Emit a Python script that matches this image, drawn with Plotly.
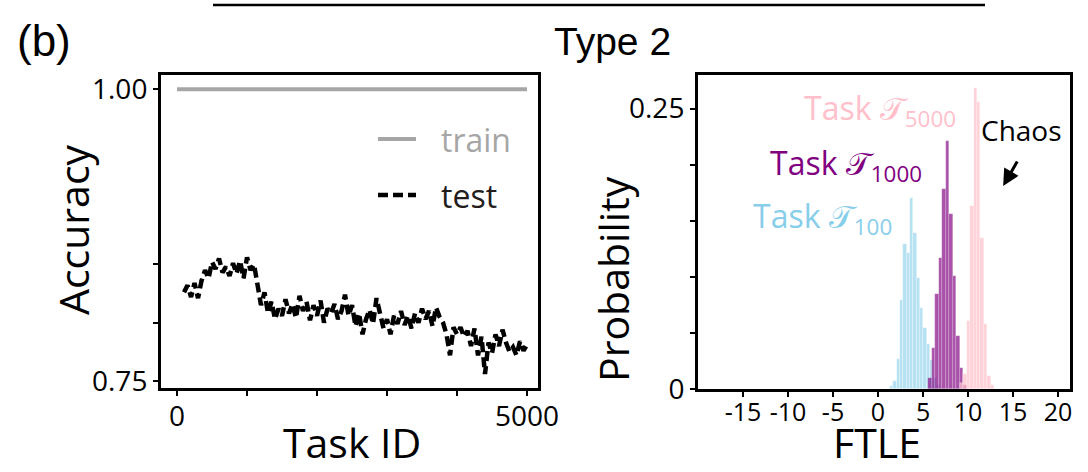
import plotly.graph_objects as go

# ---------------- data ----------------
train_task = [0, 5000]
train_acc = [1.0, 1.0]

test_task = [100, 150, 200, 250, 300, 350, 400, 450, 500, 550, 600, 650, 700, 750, 800,
             850, 900, 950, 1000, 1050, 1100, 1150, 1200, 1250, 1300, 1350, 1400, 1450,
             1500, 1550, 1600, 1650, 1700, 1750, 1800, 1850, 1900, 1950, 2000, 2050, 2100,
             2150, 2200, 2250, 2300, 2350, 2400, 2450, 2500, 2550, 2600, 2650, 2700, 2750,
             2800, 2850, 2900, 2950, 3000, 3050, 3100, 3150, 3200, 3250, 3300, 3350, 3400,
             3450, 3500, 3550, 3600, 3650, 3700, 3750, 3800, 3850, 3900, 3950, 4000, 4050,
             4100, 4150, 4200, 4250, 4300, 4350, 4400, 4450, 4500, 4550, 4600, 4650, 4700,
             4750, 4800, 4850, 4900, 4950, 5000]
test_acc = [0.826, 0.832, 0.822, 0.834, 0.821, 0.836, 0.845, 0.838, 0.852, 0.846, 0.855,
            0.843, 0.848, 0.840, 0.851, 0.842, 0.853, 0.838, 0.856, 0.845, 0.850, 0.833,
            0.815, 0.826, 0.808, 0.818, 0.803, 0.812, 0.806, 0.820, 0.808, 0.816, 0.804,
            0.823, 0.810, 0.818, 0.802, 0.815, 0.806, 0.819, 0.800, 0.812, 0.808, 0.816,
            0.803, 0.810, 0.824, 0.806, 0.815, 0.797, 0.808, 0.790, 0.803, 0.811, 0.799,
            0.821, 0.806, 0.795, 0.803, 0.790, 0.806, 0.799, 0.810, 0.798, 0.806, 0.795,
            0.808, 0.800, 0.812, 0.803, 0.810, 0.797, 0.813, 0.805, 0.800, 0.790, 0.772,
            0.796, 0.790, 0.796, 0.788, 0.793, 0.780, 0.795, 0.772, 0.788, 0.756, 0.783,
            0.774, 0.790, 0.780, 0.794, 0.783, 0.775, 0.779, 0.772, 0.784, 0.776, 0.781]

ftle_100_x = [1.52, 1.89, 2.26, 2.63, 3.00, 3.37, 3.74, 4.11, 4.48, 4.85, 5.22, 5.59, 5.96, 6.33, 6.70]
ftle_100_p = [0.003, 0.007, 0.027, 0.079, 0.129, 0.121, 0.170, 0.139, 0.099, 0.072, 0.054, 0.040, 0.026, 0.010, 0.004]

ftle_1000_x = [5.78, 6.17, 6.56, 6.95, 7.34, 7.73, 8.12, 8.51, 8.90, 9.29, 9.68]
ftle_1000_p = [0.010, 0.037, 0.085, 0.117, 0.178, 0.221, 0.156, 0.101, 0.047, 0.019, 0.004]

ftle_5000_x = [9.29, 9.67, 10.05, 10.43, 10.81, 11.19, 11.57, 11.95, 12.33, 12.71]
ftle_5000_p = [0.005, 0.013, 0.061, 0.163, 0.268, 0.256, 0.135, 0.058, 0.012, 0.004]

acc_ticks = [0.75, 0.80, 0.85, 1.00]
acc_ticklabels = ["0.75", "", "", "1.00"]
task_ticks = [0, 1000, 2000, 3000, 4000, 5000]
task_ticklabels = ["0", "", "", "", "", "5000"]
ftle_ticks = [-15, -10, -5, 0, 5, 10, 15, 20]
ftle_ticklabels = ["-15", "-10", "-5", "0", "5", "10", "15", "20"]
prob_ticks = [0, 0.05, 0.10, 0.15, 0.20, 0.25]
prob_ticklabels = ["0", "", "", "", "", "0.25"]

# ---------------- figure ----------------
W, H = 1088, 472
FONT = "Open Sans, Lato, DejaVu Sans, sans-serif"

fig = go.Figure()

fig.add_trace(go.Scatter(x=train_task, y=train_acc, mode="lines",
                         line=dict(color="#a6a6a6", width=4), name="train",
                         xaxis="x", yaxis="y", showlegend=False))
fig.add_trace(go.Scatter(x=test_task, y=test_acc, mode="lines",
                         line=dict(color="black", width=4.5, dash="10px,5px"), name="test",
                         xaxis="x", yaxis="y", showlegend=False))

fig.add_trace(go.Bar(x=ftle_100_x, y=ftle_100_p, width=0.37, xaxis="x2", yaxis="y2",
                     marker=dict(color="rgba(135,206,235,0.62)", line=dict(color="rgba(255,255,255,0.6)", width=0.6)),
                     showlegend=False))
fig.add_trace(go.Bar(x=ftle_1000_x, y=ftle_1000_p, width=0.39, xaxis="x2", yaxis="y2",
                     marker=dict(color="rgba(128,0,128,0.68)", line=dict(color="rgba(255,255,255,0.4)", width=0.5)),
                     showlegend=False))
fig.add_trace(go.Bar(x=ftle_5000_x, y=ftle_5000_p, width=0.38, xaxis="x2", yaxis="y2",
                     marker=dict(color="rgba(255,192,203,0.72)", line=dict(color="rgba(255,255,255,0.5)", width=0.5)),
                     showlegend=False))

axis_common = dict(showline=True, linewidth=3, linecolor="black", mirror=True,
                   ticks="outside", ticklen=5, tickwidth=2, tickcolor="black",
                   showgrid=False, zeroline=False, automargin=False)

fig.update_layout(
    width=W, height=H,
    margin=dict(l=0, r=0, t=0, b=0),
    paper_bgcolor="white", plot_bgcolor="white",
    barmode="overlay", bargap=0,
    font=dict(family=FONT, color="black"),
    xaxis=dict(domain=[161 / W, 538 / W], range=[-229, 5157], anchor="y",
               tickvals=task_ticks, ticktext=task_ticklabels,
               tickfont=dict(size=28), ticklabelstandoff=-4, **axis_common),
    yaxis=dict(domain=[1 - 388 / H, 1 - 75 / H], range=[0.744, 1.0123], anchor="x",
               tickvals=acc_ticks, ticktext=acc_ticklabels,
               tickfont=dict(size=28), **axis_common),
    xaxis2=dict(domain=[698 / W, 1070 / W], range=[-20, 21.33], anchor="y2",
                tickvals=ftle_ticks, ticktext=ftle_ticklabels,
                tickfont=dict(size=25), ticklabelstandoff=-6, **axis_common),
    yaxis2=dict(domain=[1 - 389 / H, 1 - 75 / H], range=[0, 0.28], anchor="x2",
                tickvals=prob_ticks, ticktext=prob_ticklabels,
                tickfont=dict(size=28), **axis_common),
)

# axis titles
def title(text, x, y, angle=0, yanchor="middle"):
    fig.add_annotation(text=text, xref="paper", yref="paper", x=x / W, y=y,
                       showarrow=False, textangle=angle, xanchor="center", yanchor=yanchor,
                       font=dict(size=41, color="black"))

title("Task ID", 352, 0.0, yanchor="bottom")
title("FTLE", 877, 0.0, yanchor="bottom")
title("Accuracy", 73, 1 - 230 / H, -90)
title("Probability", 613, 1 - 279 / H, -90)

# top rule line
fig.add_shape(type="line", xref="paper", yref="paper",
              x0=213 / W, x1=985 / W, y0=1 - 5 / H, y1=1 - 5 / H,
              line=dict(color="black", width=2.5))

TITLE_FONT = "Liberation Sans Narrow, Liberation Sans, Arial Narrow, sans-serif"
fig.add_annotation(text="(b)", xref="paper", yref="paper", x=44 / W, y=1 - 40 / H,
                   showarrow=False, font=dict(size=44, family=TITLE_FONT),
                   xanchor="center", yanchor="middle")
fig.add_annotation(text="Type 2", xref="paper", yref="paper", x=612 / W, y=1 - 42 / H,
                   showarrow=False, font=dict(size=39, family=TITLE_FONT),
                   xanchor="center", yanchor="middle")

# legend (manual, with text coloured like lines)
fig.add_shape(type="line", xref="paper", yref="paper", x0=378 / W, x1=416 / W,
              y0=1 - 139 / H, y1=1 - 139 / H, line=dict(color="#a6a6a6", width=4))
fig.add_annotation(text="train", xref="paper", yref="paper", x=439 / W, y=1 - 139 / H,
                   showarrow=False, xanchor="left", yanchor="middle",
                   font=dict(size=32, color="#a6a6a6"))
fig.add_shape(type="line", xref="paper", yref="paper", x0=378 / W, x1=416 / W,
              y0=1 - 195 / H, y1=1 - 195 / H, line=dict(color="black", width=4.5, dash="10px,5px"))
fig.add_annotation(text="test", xref="paper", yref="paper", x=439 / W, y=1 - 195 / H,
                   showarrow=False, xanchor="left", yanchor="middle",
                   font=dict(size=32, color="#231c1c"))

# histogram labels
fig.add_annotation(text="Task 𝒯<sub>5000</sub>", xref="paper", yref="paper", x=958 / W, y=1 - 110 / H,
                   showarrow=False, xanchor="right", yanchor="middle",
                   font=dict(size=32, color="#ffc0cb"))
fig.add_annotation(text="Task 𝒯<sub>1000</sub>", xref="paper", yref="paper", x=924 / W, y=1 - 165 / H,
                   showarrow=False, xanchor="right", yanchor="middle",
                   font=dict(size=32, color="#800080"))
fig.add_annotation(text="Task 𝒯<sub>100</sub>", xref="paper", yref="paper", x=894 / W, y=1 - 218 / H,
                   showarrow=False, xanchor="right", yanchor="middle",
                   font=dict(size=32, color="#87ceeb"))

fig.add_annotation(text="Chaos", xref="paper", yref="paper", x=1021 / W, y=1 - 130 / H,
                   showarrow=False, xanchor="center", yanchor="middle",
                   font=dict(size=28, color="black"))
fig.add_annotation(text="", xref="x2", yref="y2", x=13.9, y=0.181,
                   ax=15, ay=-26, showarrow=True, arrowhead=2, arrowsize=1.1,
                   arrowwidth=3, arrowcolor="black")

fig.write_html("out.html")
